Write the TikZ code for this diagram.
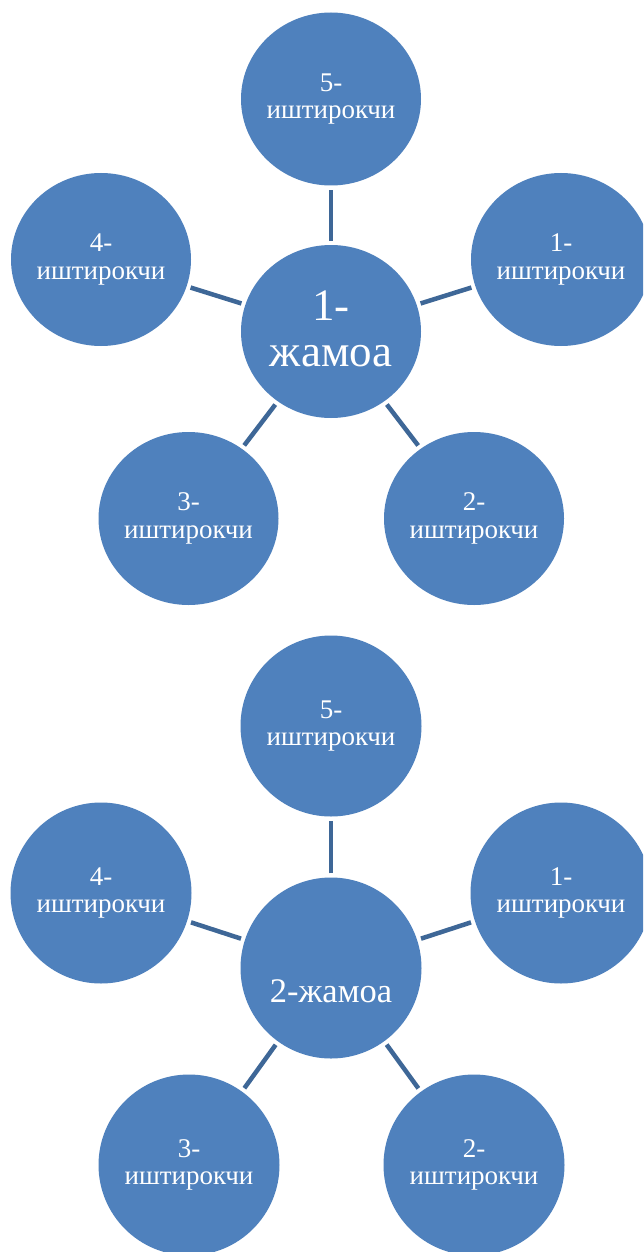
\documentclass[tikz,border=0pt]{standalone}
\usepackage{fontspec}
\setmainfont{Liberation Serif}
\usetikzlibrary{shapes.geometric}
\definecolor{bubfill}{HTML}{4F81BD}
\definecolor{linkcol}{HTML}{3E6797}
\begin{document}
\begin{tikzpicture}[x=1pt,y=-1pt,
  bubA/.style={ellipse, fill=bubfill, minimum width=180pt, minimum height=173pt, inner sep=0pt},
  bubB/.style={circle, fill=bubfill, minimum size=181pt, inner sep=0pt},
  smalltxt/.style={text=white, align=center, font=\fontsize{27}{27.5}\selectfont, inner sep=0pt},
  bigtxt/.style={text=white, align=center, font=\fontsize{45}{46}\selectfont, inner sep=0pt},
  midtxt/.style={text=white, align=center, font=\fontsize{34.5}{36}\selectfont, inner sep=0pt},
  link/.style={draw=linkcol, line width=4.5pt, shorten <=4pt, shorten >=4pt}]
\useasboundingbox (0,0) rectangle (643,1252);
\clip (0,0) rectangle (643,1252);
\fill[white] (0,0) rectangle (643,1252);
% ---------- diagram 1 ----------
\node[bubA] (c1) at (331,331.5) {};
\node[bubA] (a5) at (331,99) {};
\node[bubA] (a1) at (561,259.5) {};
\node[bubA] (a2) at (474,518.5) {};
\node[bubA] (a3) at (188.5,518.5) {};
\node[bubA] (a4) at (101,259.5) {};
\node[bigtxt] (c1t) at (331,329) {1-\\жамоа};
\node[smalltxt] (a5t) at (331,99) {5-\\иштирокчи};
\node[smalltxt] (a1t) at (561,259.5) {1-\\иштирокчи};
\node[smalltxt] (a2t) at (474,518.5) {2-\\иштирокчи};
\node[smalltxt] (a3t) at (188.5,518.5) {3-\\иштирокчи};
\node[smalltxt] (a4t) at (101,259.5) {4-\\иштирокчи};
\draw[link] (c1) -- (a5);
\draw[link] (c1) -- (a1);
\draw[link] (c1) -- (a2);
\draw[link] (c1) -- (a3);
\draw[link] (c1) -- (a4);
% ---------- diagram 2 ----------
\node[bubB] (c2) at (331,968) {};
\node[bubB] (b5) at (331,726) {};
\node[bubB] (b1) at (561,893) {};
\node[bubB] (b2) at (474,1165) {};
\node[bubB] (b3) at (189,1165) {};
\node[bubB] (b4) at (101,893) {};
\node[midtxt, anchor=base] (c2t) at (331,1002) {2-жамоа};
\node[smalltxt] (b5t) at (331,726) {5-\\иштирокчи};
\node[smalltxt] (b1t) at (561,893) {1-\\иштирокчи};
\node[smalltxt] (b2t) at (474,1165) {2-\\иштирокчи};
\node[smalltxt] (b3t) at (189,1165) {3-\\иштирокчи};
\node[smalltxt] (b4t) at (101,893) {4-\\иштирокчи};
\draw[link] (c2) -- (b5);
\draw[link] (c2) -- (b1);
\draw[link] (c2) -- (b2);
\draw[link] (c2) -- (b3);
\draw[link] (c2) -- (b4);
\end{tikzpicture}
\end{document}
